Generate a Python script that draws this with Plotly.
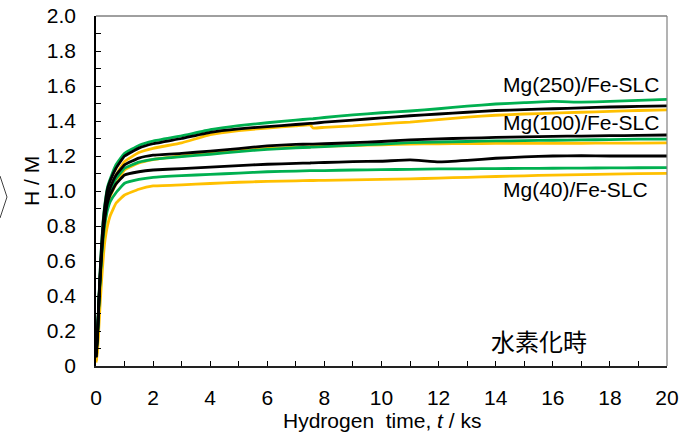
import plotly.graph_objects as go

# ---- data ----
time_ks = [0, 0.05, 0.1, 0.15, 0.2, 0.25, 0.3, 0.4, 0.5, 0.7, 1.0, 1.5, 2,
           3, 4, 5, 6, 7, 7.5, 7.6, 8, 9, 10, 11, 12, 13, 14, 15, 16, 17, 18, 19, 20]

g250 = [0.07, 0.18, 0.38, 0.56, 0.71, 0.83, 0.91, 1.02, 1.07, 1.15, 1.215, 1.26, 1.285,
        1.315, 1.35, 1.373, 1.39, 1.405, 1.412, 1.413, 1.42, 1.435, 1.447, 1.457, 1.47,
        1.485, 1.497, 1.505, 1.512, 1.508, 1.512, 1.518, 1.524]
k250 = [0.05, 0.17, 0.37, 0.55, 0.70, 0.82, 0.90, 1.01, 1.06, 1.13, 1.20, 1.245, 1.27,
        1.30, 1.335, 1.355, 1.368, 1.38, 1.386, 1.387, 1.393, 1.405, 1.418, 1.43, 1.44,
        1.45, 1.46, 1.465, 1.47, 1.475, 1.48, 1.483, 1.486]
y250 = [0.03, 0.12, 0.30, 0.47, 0.62, 0.74, 0.83, 0.95, 1.01, 1.09, 1.168, 1.22, 1.244,
        1.275, 1.322, 1.345, 1.36, 1.372, 1.378, 1.36, 1.364, 1.372, 1.384, 1.394, 1.408,
        1.422, 1.433, 1.44, 1.445, 1.45, 1.455, 1.46, 1.463]

k100 = [0.05, 0.17, 0.37, 0.53, 0.67, 0.78, 0.86, 0.97, 1.02, 1.09, 1.149, 1.188, 1.205,
        1.215, 1.228, 1.242, 1.258, 1.266, 1.268, 1.268, 1.27, 1.276, 1.283, 1.292, 1.298,
        1.302, 1.306, 1.309, 1.312, 1.314, 1.316, 1.318, 1.32]
g100 = [0.07, 0.17, 0.36, 0.52, 0.66, 0.77, 0.85, 0.95, 1.00, 1.07, 1.13, 1.165, 1.181,
        1.197, 1.21, 1.225, 1.238, 1.247, 1.25, 1.251, 1.254, 1.261, 1.268, 1.276, 1.28,
        1.283, 1.286, 1.288, 1.29, 1.292, 1.294, 1.296, 1.297]
y100 = [0.03, 0.12, 0.30, 0.46, 0.60, 0.71, 0.80, 0.91, 0.97, 1.04, 1.12, 1.16, 1.18,
        1.20, 1.215, 1.23, 1.243, 1.25, 1.253, 1.254, 1.256, 1.26, 1.264, 1.268, 1.27,
        1.271, 1.272, 1.272, 1.273, 1.273, 1.274, 1.274, 1.275]

k40 = [0.05, 0.16, 0.36, 0.52, 0.65, 0.76, 0.83, 0.93, 0.98, 1.04, 1.091, 1.11, 1.12,
       1.128, 1.137, 1.145, 1.153, 1.158, 1.16, 1.161, 1.163, 1.168, 1.17, 1.178, 1.166,
       1.175, 1.187, 1.195, 1.2, 1.202, 1.2, 1.2, 1.2]
g40 = [0.07, 0.16, 0.35, 0.50, 0.63, 0.73, 0.80, 0.89, 0.94, 0.99, 1.044, 1.066, 1.078,
       1.088, 1.095, 1.102, 1.11, 1.114, 1.116, 1.116, 1.117, 1.12, 1.122, 1.124, 1.126,
       1.127, 1.128, 1.129, 1.13, 1.131, 1.132, 1.133, 1.134]
y40 = [0.02, 0.08, 0.22, 0.37, 0.50, 0.61, 0.70, 0.80, 0.86, 0.93, 0.977, 1.01, 1.029,
       1.035, 1.043, 1.05, 1.055, 1.058, 1.06, 1.06, 1.061, 1.064, 1.066, 1.069, 1.074,
       1.078, 1.083, 1.087, 1.091, 1.094, 1.097, 1.099, 1.101]

x_tick_vals = [0, 2, 4, 6, 8, 10, 12, 14, 16, 18, 20]
x_tick_text = ["0", "2", "4", "6", "8", "10", "12", "14", "16", "18", "20"]
y_tick_vals = [0, 0.2, 0.4, 0.6, 0.8, 1.0, 1.2, 1.4, 1.6, 1.8, 2.0]
y_tick_text = ["0", "0.2", "0.4", "0.6", "0.8", "1.0", "1.2", "1.4", "1.6", "1.8", "2.0"]

series_labels = ["Mg(250)/Fe-SLC", "Mg(100)/Fe-SLC", "Mg(40)/Fe-SLC"]
label_x = [14.2, 14.2, 14.2]
label_y = [1.611, 1.389, 1.006]

YELLOW = "#FFC000"
GREEN = "#00B050"
BLACK = "#000000"

fig = go.Figure()
order = [(y250, YELLOW), (y100, YELLOW), (y40, YELLOW),
         (g250, GREEN), (g100, GREEN), (g40, GREEN),
         (k250, BLACK), (k100, BLACK), (k40, BLACK)]
for vals, col in order:
    fig.add_trace(go.Scatter(x=time_ks, y=vals, mode="lines",
                             line=dict(color=col, width=2.8, shape="spline", smoothing=0.3),
                             showlegend=False, hoverinfo="skip"))

FONT = "Liberation Sans, Arial, sans-serif"
for txt, xx, yy in zip(series_labels, label_x, label_y):
    fig.add_annotation(x=xx, y=yy, text=txt, showarrow=False, xanchor="left",
                       yanchor="middle", font=dict(family=FONT, size=21, color="#000"))

fig.add_annotation(x=(539 - 96) / 571, y=(366 - 340) / 350, xref="paper", yref="paper",
                   text="水素化時", showarrow=False, xanchor="center", yanchor="middle",
                   font=dict(family="Noto Sans CJK JP", size=24, color="#000"))

# axis titles
fig.add_annotation(x=(31 - 96) / 571, y=(366 - 181) / 350, xref="paper", yref="paper",
                   text="H / M", textangle=-90, showarrow=False,
                   xanchor="center", yanchor="middle",
                   font=dict(family=FONT, size=21, color="#000"))
fig.add_annotation(x=0.5, y=(366 - 420) / 350, xref="paper", yref="paper",
                   text="Hydrogen  time, <i>t</i> / ks", showarrow=False,
                   xanchor="center", yanchor="middle",
                   font=dict(family=FONT, size=21, color="#000"))

# box (top/right) and decorative chevron at left edge
fig.add_shape(type="line", xref="paper", yref="paper", x0=0, x1=1, y0=1, y1=1,
              line=dict(color="#404040", width=1))
fig.add_shape(type="line", xref="paper", yref="paper", x0=1, x1=1, y0=0, y1=1,
              line=dict(color="#808080", width=1.2))
fig.add_shape(type="path", xref="paper", yref="paper",
              path="M %f,%f L %f,%f L %f,%f" % ((0 - 96) / 571, (366 - 176) / 350,
                                                (7 - 96) / 571, (366 - 197) / 350,
                                                (0 - 96) / 571, (366 - 218) / 350),
              line=dict(color="#404040", width=1))

fig.update_xaxes(range=[0, 20], tickvals=x_tick_vals, ticktext=x_tick_text,
                 ticks="inside", ticklen=5, tickcolor="#000", tickwidth=1,
                 minor=dict(dtick=1, tick0=0, ticks="inside", ticklen=5, tickcolor="#000"),
                 showline=True, linecolor="#222", linewidth=2, showgrid=False, zeroline=False,
                 tickfont=dict(family=FONT, size=21, color="#000"), ticklabelstandoff=12,
                 automargin=False)
fig.update_yaxes(range=[0, 2.0], tickvals=y_tick_vals, ticktext=y_tick_text,
                 ticks="inside", ticklen=5, tickcolor="#000", tickwidth=1,
                 minor=dict(dtick=0.1, tick0=0, ticks="inside", ticklen=5, tickcolor="#000"),
                 showline=True, linecolor="#000", linewidth=1.5, showgrid=False, zeroline=False,
                 tickfont=dict(family=FONT, size=21, color="#000"), ticklabelstandoff=14,
                 automargin=False)

fig.update_layout(width=682, height=433, margin=dict(l=96, r=15, t=16, b=67),
                  plot_bgcolor="white", paper_bgcolor="white", showlegend=False)

fig.write_html("out.html", config={"displayModeBar": False},
               post_script="document.body.style.margin='0';document.body.style.overflow='hidden';")
